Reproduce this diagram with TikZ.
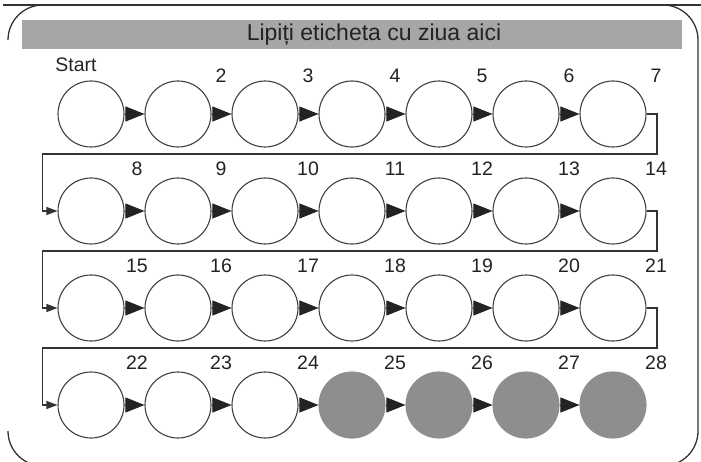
\documentclass[tikz,border=0pt]{standalone}
\usepackage{fontspec}
\setmainfont{Liberation Sans}
\usetikzlibrary{arrows.meta}
\definecolor{barfill}{RGB}{166,166,166}
\definecolor{dotfill}{RGB}{142,142,142}
\definecolor{inkc}{RGB}{35,35,35}
\tikzset{
  cnode/.style={circle, draw=black!75, line width=1.1pt, minimum size=66pt, inner sep=0pt, fill=white},
  gnode/.style={circle, draw=dotfill, fill=dotfill, line width=1.1pt, minimum size=66pt, inner sep=0pt},
  link/.style={-{Triangle[length=19pt,width=15pt]}, line width=0.8pt, inkc},
  retline/.style={-{Triangle[length=11pt,width=8pt]}, line width=1.1pt, draw=black!80},
  framepath/.style={line width=1.3pt, draw=black!80},
  lbl/.style={font=\fontsize{19.5}{20}\selectfont, text=inkc, inner sep=0pt},
  titletext/.style={font=\fontsize{23}{24}\selectfont, text=inkc, inner sep=0pt},
}
\begin{document}
\begin{tikzpicture}[x=1pt,y=-1pt]
\clip (0,0) rectangle (701,462);
\fill[white] (0,0) rectangle (701,462);
% frame
\draw[framepath] (3,5) -- (701,5);
\draw[framepath] (8,40) arc[start angle=180,end angle=270,radius=35];
\draw[framepath] (663,5) arc[start angle=270,end angle=360,radius=35] -- (698,431)
  arc[start angle=0,end angle=90,radius=35] -- (43,466)
  arc[start angle=90,end angle=180,radius=35];
% title bar
\fill[barfill] (22,20) rectangle (682,49);
\node[titletext] (title) at (374,34.5) {Lipiți eticheta cu ziua aici};
% circles
\foreach \r/\yy in {1/114,2/211,3/308,4/405} {
  \foreach \k in {1,...,7} {
    \pgfmathtruncatemacro\n{7*(\r-1)+\k}
    \pgfmathsetmacro\xx{91+87*(\k-1)}
    \ifnum\n>24
      \node[gnode] (c\n) at (\xx,\yy) {};
    \else
      \node[cnode] (c\n) at (\xx,\yy) {};
    \fi
    \pgfmathsetmacro\ly{\yy-((\r==1)?38:42)}
    \pgfmathsetmacro\lx{\xx+((\k==1)?46:43)}
    \ifnum\n>1
      \node[lbl] (l\n) at (\lx,\ly) {\n};
    \fi
  }
}
\node[lbl] (lstart) at (76,65) {Start};
% links within rows
\foreach \n in {1,...,27} {
  \pgfmathtruncatemacro\md{mod(\n,7)}
  \pgfmathtruncatemacro\m{\n+1}
  \ifnum\md>0
    \draw[link] (c\n.east) -- (c\m.west);
  \fi
}
% return connectors
\foreach \r/\yy/\ny in {1/114/211,2/211/308,3/308/405} {
  \pgfmathtruncatemacro\a{7*\r}
  \pgfmathtruncatemacro\b{7*\r+1}
  \coordinate (ra\r) at (657,\yy+40);
  \coordinate (rb\r) at (42.5,\ny);
  \draw[retline] (c\a.east) -| (ra\r) -| (rb\r) -- (c\b.west);
}
\end{tikzpicture}
\end{document}
